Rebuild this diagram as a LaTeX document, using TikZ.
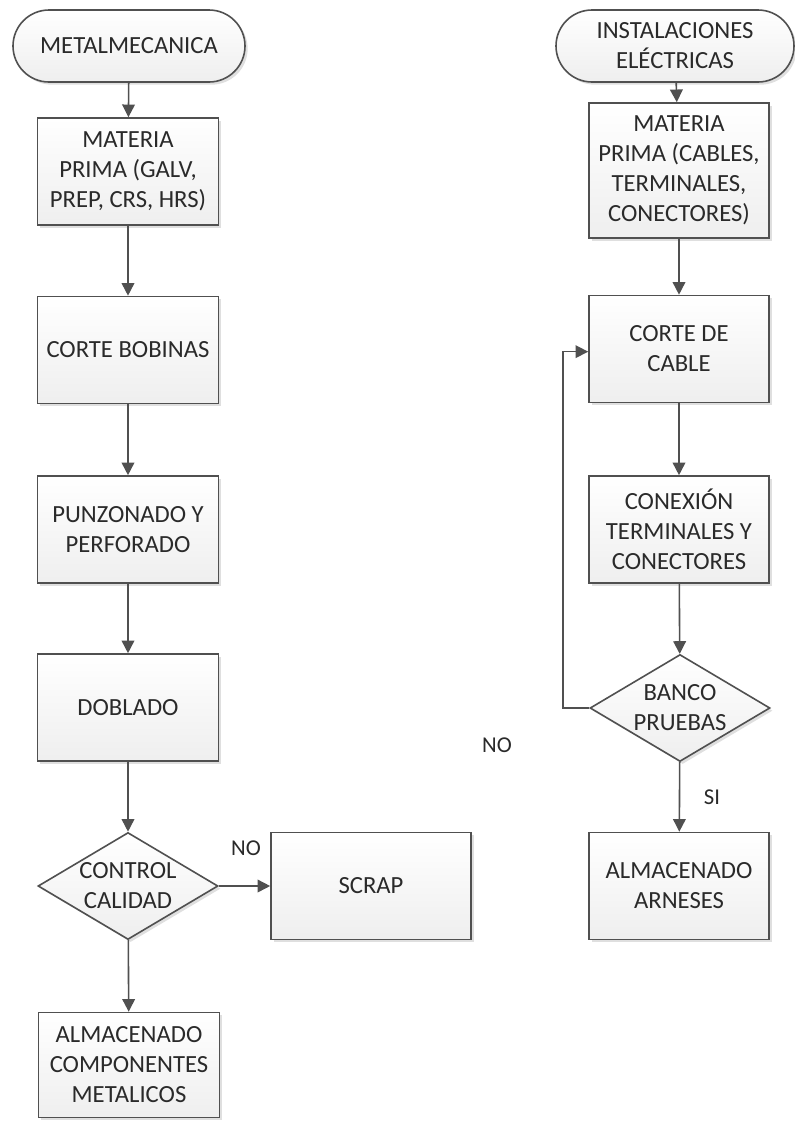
\documentclass[tikz,border=0pt]{standalone}
\usepackage{fontspec}
\setmainfont{Carlito}
\usetikzlibrary{shapes.geometric, arrows.meta, positioning, shadows}
\usepackage{xcolor}

\definecolor{linegray}{HTML}{505050}
\definecolor{textgray}{HTML}{2A2A2A}
\newcommand{\px}{0.75pt}

\begin{document}
\begin{tikzpicture}[x=0.75pt, y=-0.75pt,
        every node/.style={font=\fontsize{18.5}{22.5}\selectfont, text=textgray, align=center},
        base/.style={draw=linegray, line width=1.2pt, top color=white, bottom color=gray!13,
            drop shadow={shadow xshift=2pt, shadow yshift=-2pt, opacity=0.25}},
        proceso/.style={base, rectangle, minimum width=181*\px, minimum height=107*\px, inner sep=0pt},
        inicio/.style={base, rectangle, rounded corners=36*\px, minimum height=72*\px, inner sep=0pt},
        decision/.style={base, diamond, aspect=1.68, minimum width=180*\px, minimum height=107*\px, inner sep=0pt},
        flecha/.style={draw=linegray, line width=1.2pt, -{Triangle[length=9.5pt, width=9.5pt]}},
        etiqueta/.style={font=\fontsize{17}{20}\selectfont}]
        \useasboundingbox (0, 0) rectangle (794, 1121);

        % Metalmecanica
        \node[inicio, minimum width=232*\px] (meta) at (129, 46) {METALMECANICA};
        \node[proceso] (mpMeta) at (128, 171.5) {MATERIA\\PRIMA (GALV,\\PREP, CRS, HRS)};
        \node[proceso] (corteBob) at (128, 350) {CORTE BOBINAS};
        \node[proceso] (punz) at (128, 529.5) {PUNZONADO Y\\PERFORADO};
        \node[proceso] (dobl) at (128, 707.5) {DOBLADO};
        \node[decision] (ctrl) at (128, 886) {CONTROL\\CALIDAD};
        \node[proceso, minimum width=200*\px] (scrap) at (371, 886) {SCRAP};
        \node[proceso, minimum height=105*\px] (almMeta) at (129, 1065) {ALMACENADO\\COMPONENTES\\METALICOS};

        % Instalaciones electricas
        \node[inicio, minimum width=238*\px] (inst) at (675, 46) {INSTALACIONES\\ELÉCTRICAS};
        \node[proceso, minimum width=180*\px, minimum height=135*\px] (mpInst) at (679, 170.5) {MATERIA\\PRIMA (CABLES,\\TERMINALES,\\CONECTORES)};
        \node[proceso, minimum width=180*\px] (corteCab) at (679, 349) {CORTE DE\\CABLE};
        \node[proceso, minimum width=180*\px] (conex) at (679, 529.5) {CONEXIÓN\\TERMINALES Y\\CONECTORES};
        \node[decision] (banco) at (680, 708) {BANCO\\PRUEBAS};
        \node[proceso, minimum width=180*\px] (almInst) at (679, 886) {ALMACENADO\\ARNESES};

        % Flechas
        \foreach \a/\b in {meta/mpMeta, mpMeta/corteBob, corteBob/punz, punz/dobl, dobl/ctrl, ctrl/almMeta,
                           inst/mpInst, mpInst/corteCab, corteCab/conex, conex/banco, banco/almInst} {
            \draw[flecha] (\a) -- (\b);
        }
        \draw[flecha] (ctrl) -- (scrap);
        \coordinate (vuelta) at (563, 708);
        \draw[flecha] (banco.west) -- (vuelta) |- ([yshift=-2pt]corteCab.west);

        % Etiquetas
        \node[etiqueta] (noScrap) at (246, 848) {NO};
        \node[etiqueta] (noBanco) at (497, 745) {NO};
        \node[etiqueta] (siBanco) at (712, 797) {SI};
    \end{tikzpicture}
\end{document}
